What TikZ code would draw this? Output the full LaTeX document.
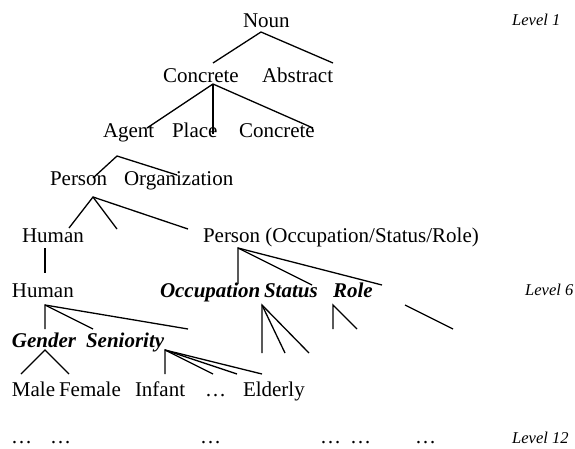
\documentclass[tikz,border=0pt]{standalone}
\usepackage{fontspec}
\setmainfont{Liberation Serif}
\tikzset{
  lbl/.style={anchor=base west, inner sep=0pt, outer sep=0pt, font=\fontsize{21}{25}\selectfont},
  bilbl/.style={lbl, font=\fontsize{21}{25}\selectfont\bfseries\itshape},
  lvl/.style={anchor=base west, inner sep=0pt, font=\fontsize{16.5}{20}\selectfont\itshape},
  edge/.style={draw=black, line width=1.3pt}
}
\begin{document}
\begin{tikzpicture}[x=1pt,y=-1pt]
\useasboundingbox (0,0) rectangle (575,448);
% texts
\node[lbl] (noun) at (243,27) {Noun};
\node[lbl] (concrete) at (163,82) {Concrete};
\node[lbl] (abstract) at (262,82) {Abstract};
\node[lbl] (agent) at (103,137) {Agent};
\node[lbl] (place) at (172,137) {Place};
\node[lbl] (concrete2) at (239,137) {Concrete};
\node[lbl] (person) at (50,185) {Person};
\node[lbl] (org) at (124,185) {Organization};
\node[lbl] (human) at (22,242) {Human};
\node[lbl] (personocc) at (203,242) {Person (Occupation/Status/Role)};
\node[lbl] (human6) at (12,297) {Human};
\node[bilbl] (occ) at (160,297) {Occupation};
\node[bilbl] (status) at (264,297) {Status};
\node[bilbl] (role) at (333,297) {Role};
\node[bilbl] (gender) at (12,347) {Gender};
\node[bilbl] (seniority) at (86,347) {Seniority};
\node[lbl] (male) at (12,396) {Male};
\node[lbl] (female) at (59,396) {Female};
\node[lbl] (infant) at (135,396) {Infant};
\node[lbl] (dots8) at (205,396) {…};
\node[lbl] (elderly) at (243,396) {Elderly};
\node[lbl] (d1) at (11,443) {…};
\node[lbl] (d2) at (50,443) {…};
\node[lbl] (d3) at (200,443) {…};
\node[lbl] (d4) at (320,443) {…};
\node[lbl] (d5) at (350,443) {…};
\node[lbl] (d6) at (415,443) {…};
\node[lvl] (lv1) at (512,25) {Level 1};
\node[lvl] (lv6) at (525,295) {Level 6};
\node[lvl] (lv12) at (512,443) {Level 12};
% connector points
\coordinate (a1) at (261,32);
\coordinate (a1l) at (213,63);
\coordinate (a1r) at (333,63);
\coordinate (a2) at (213,84);
\coordinate (a2l) at (147,128);
\coordinate (a2m) at (213,134);
\coordinate (a2r) at (313,128);
\coordinate (a3) at (117,156);
\coordinate (a3l) at (93,178);
\coordinate (a3r) at (177,175);
\coordinate (a4) at (93,197);
\coordinate (a4l) at (69,228);
\coordinate (a4m) at (117,229);
\coordinate (a4r) at (188,229);
\coordinate (a5t) at (45,248);
\coordinate (a5b) at (45,273);
\coordinate (a6) at (238,248);
\coordinate (a6l) at (238,284);
\coordinate (a6m) at (312,285);
\coordinate (a6r) at (382,285);
\coordinate (a7) at (45,305);
\coordinate (a7l) at (45,329);
\coordinate (a7m) at (93,329);
\coordinate (a7r) at (188,329);
\coordinate (a8) at (45,350);
\coordinate (a8l) at (21,374);
\coordinate (a8r) at (69,374);
\coordinate (a9) at (165,350);
\coordinate (a9a) at (165,374);
\coordinate (a9b) at (213,374);
\coordinate (a9c) at (237,374);
\coordinate (a9d) at (262,374);
\coordinate (a10) at (262,305);
\coordinate (a10a) at (262,353);
\coordinate (a10b) at (285,353);
\coordinate (a10c) at (309,353);
\coordinate (a11) at (333,305);
\coordinate (a11a) at (333,329);
\coordinate (a11b) at (357,329);
\coordinate (a12) at (405,305);
\coordinate (a12b) at (453,329);
% connectors
\draw[edge] (a1l) -- (a1) -- (a1r);
\draw[edge] (a2l) -- (a2) -- (a2r);
\draw[edge] (a2) -- (a2m);
\draw[edge] (a3l) -- (a3) -- (a3r);
\draw[edge] (a4l) -- (a4) -- (a4r);
\draw[edge] (a4) -- (a4m);
\draw[edge] (a5t) -- (a5b);
\draw[edge] (a6l) -- (a6) -- (a6r);
\draw[edge] (a6) -- (a6m);
\draw[edge] (a7l) -- (a7) -- (a7r);
\draw[edge] (a7) -- (a7m);
\draw[edge] (a8l) -- (a8) -- (a8r);
\draw[edge] (a9a) -- (a9) -- (a9d);
\draw[edge] (a9) -- (a9b);
\draw[edge] (a9) -- (a9c);
\draw[edge] (a10a) -- (a10) -- (a10c);
\draw[edge] (a10) -- (a10b);
\draw[edge] (a11a) -- (a11) -- (a11b);
\draw[edge] (a12) -- (a12b);
\end{tikzpicture}
\end{document}
